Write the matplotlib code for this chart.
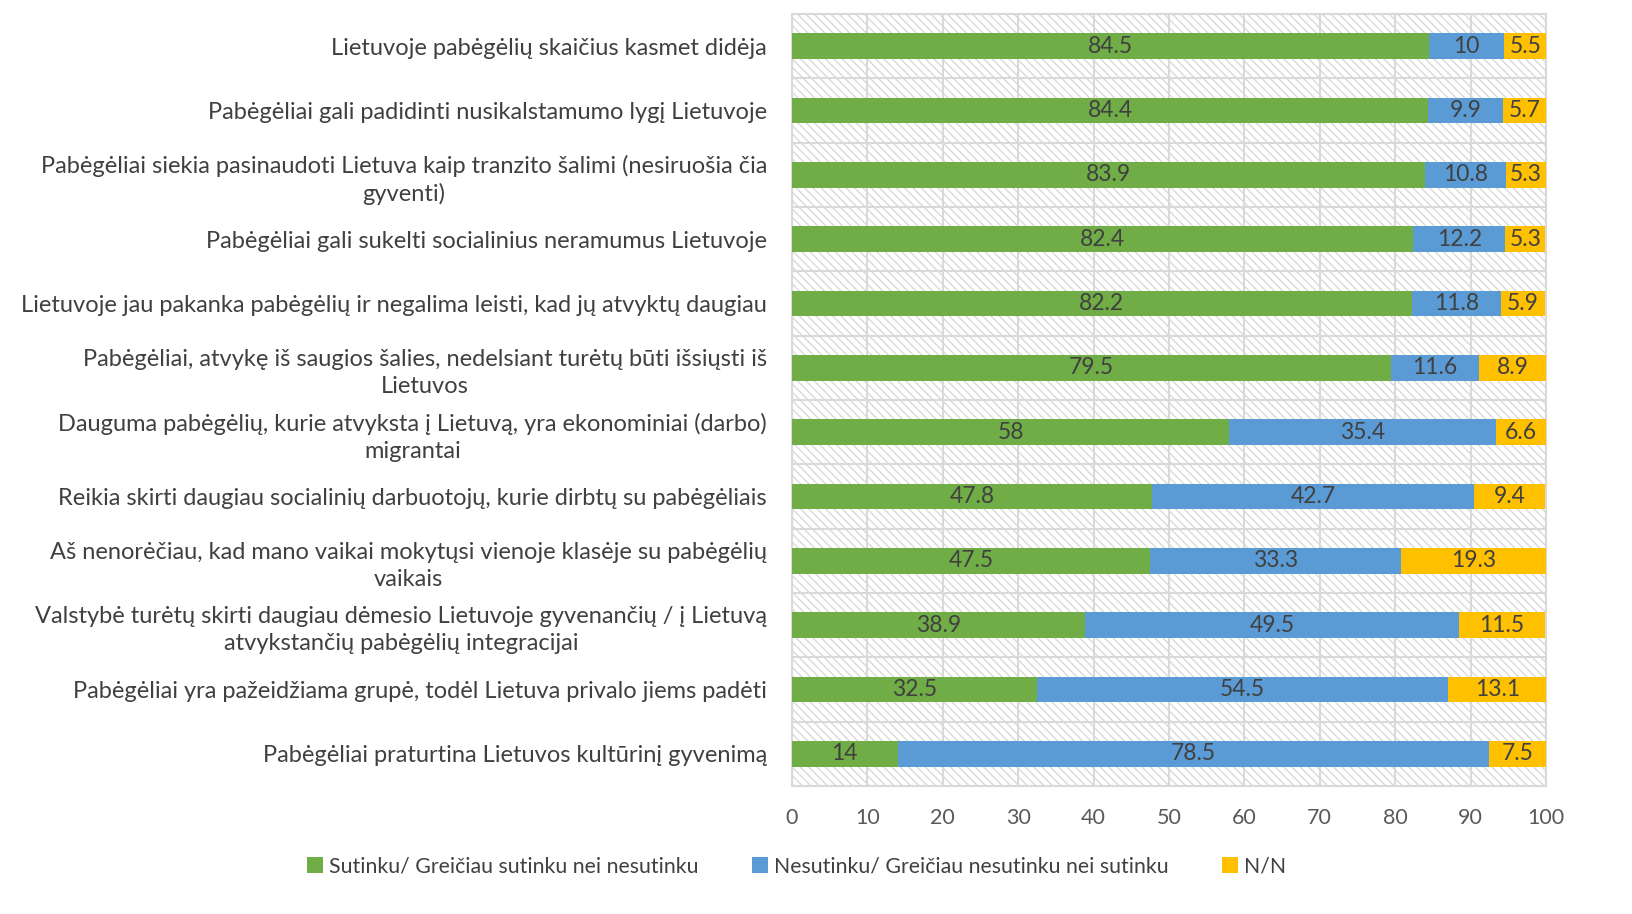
import matplotlib.pyplot as plt
from matplotlib.patches import Rectangle
import numpy as np

plt.rcParams["font.family"] = ["Lato", "DejaVu Sans"]
plt.rcParams["hatch.linewidth"] = 1.0

# Data (top to bottom as shown)
statements = [
    "Lietuvoje pabėgėlių skaičius kasmet didėja",
    "Pabėgėliai gali padidinti nusikalstamumo lygį Lietuvoje",
    "Pabėgėliai siekia pasinaudoti Lietuva kaip tranzito šalimi (nesiruošia čia\ngyventi)",
    "Pabėgėliai gali sukelti socialinius neramumus Lietuvoje",
    "Lietuvoje jau pakanka pabėgėlių ir negalima leisti, kad jų atvyktų daugiau",
    "Pabėgėliai, atvykę iš saugios šalies, nedelsiant turėtų būti išsiųsti iš\nLietuvos",
    "Dauguma pabėgėlių, kurie atvyksta į Lietuvą, yra ekonominiai (darbo)\nmigrantai",
    "Reikia skirti daugiau socialinių darbuotojų, kurie dirbtų su pabėgėliais",
    "Aš nenorėčiau, kad mano vaikai mokytųsi vienoje klasėje su pabėgėlių\nvaikais",
    "Valstybė turėtų skirti daugiau dėmesio Lietuvoje gyvenančių / į Lietuvą\natvykstančių pabėgėlių integracijai",
    "Pabėgėliai yra pažeidžiama grupė, todėl Lietuva privalo jiems padėti",
    "Pabėgėliai praturtina Lietuvos kultūrinį gyvenimą",
]
agree = [84.5, 84.4, 83.9, 82.4, 82.2, 79.5, 58, 47.8, 47.5, 38.9, 32.5, 14]
disagree = [10, 9.9, 10.8, 12.2, 11.8, 11.6, 35.4, 42.7, 33.3, 49.5, 54.5, 78.5]
dont_know = [5.5, 5.7, 5.3, 5.3, 5.9, 8.9, 6.6, 9.4, 19.3, 11.5, 13.1, 7.5]

series_names = [
    "Sutinku/ Greičiau sutinku nei nesutinku",
    "Nesutinku/ Greičiau nesutinku nei sutinku",
    "N/N",
]
colors = ["#70ad47", "#5b9bd5", "#ffc000"]

fig = plt.figure(figsize=(16.33, 9.14), dpi=100)
ax = fig.add_axes([0.485, 0.140, 0.4617, 0.8447])

n = len(statements)
y = np.arange(n)

# hatched plot background
bg = Rectangle((0, 0), 1, 1, transform=ax.transAxes, facecolor="white",
               edgecolor="#d9d9d9", hatch="\\\\\\\\", linewidth=0, zorder=0)
ax.add_patch(bg)

left = np.zeros(n)
for vals, name, col in zip([agree, disagree, dont_know], series_names, colors):
    vals = np.array(vals, dtype=float)
    bars = ax.barh(y, vals, left=left, height=0.4, color=col, label=name, zorder=3)
    for b, v in zip(bars, vals):
        ax.text(b.get_x() + b.get_width() / 2, b.get_y() + b.get_height() / 2,
                f"{v:g}", ha="center", va="center", fontsize=16.5,
                color="#404040", zorder=4)
    left += vals

ax.set_xlim(0, 100)
ax.set_ylim(n - 0.5, -0.5)
ax.set_xticks(np.arange(0, 101, 10))
ax.set_yticks(y)
ax.set_yticklabels(statements, fontsize=17, color="#404040",
                   multialignment="center", linespacing=1.35)
ax.set_yticks(np.arange(-0.5, n, 1), minor=True)
ax.tick_params(axis="y", which="both", length=0, pad=18)
ax.tick_params(axis="x", length=0, labelsize=15.5, colors="#595959", pad=16)

ax.grid(axis="x", color="#d9d9d9", linewidth=1.5, zorder=1)
ax.grid(axis="y", which="minor", color="#d9d9d9", linewidth=1.5, zorder=1)
ax.grid(axis="y", which="major", visible=False)
ax.set_axisbelow(True)
for s in ax.spines.values():
    s.set_color("#d9d9d9")
    s.set_linewidth(1.5)

fig.legend(loc="center", bbox_to_anchor=(0.488, 0.052), ncol=3, frameon=False,
           fontsize=15.3, handlelength=0.75, handleheight=0.75, handletextpad=0.3,
           columnspacing=2.5, labelcolor="#404040")

plt.savefig("out.png", dpi=100)
